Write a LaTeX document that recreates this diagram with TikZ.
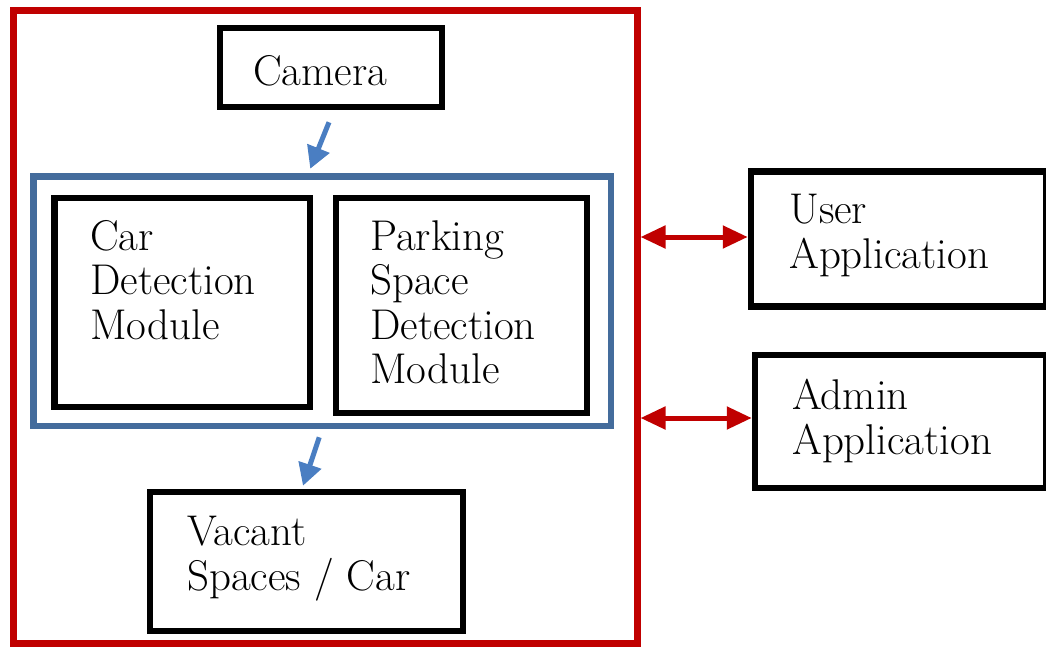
\documentclass[tikz,border=0pt]{standalone}
\usetikzlibrary{arrows.meta,calc}
\definecolor{outred}{RGB}{192,0,0}
\definecolor{grpblue}{RGB}{68,108,156}
\definecolor{arrblue}{RGB}{74,126,194}
\begin{document}
\begin{tikzpicture}[x=1pt,y=-1pt,
  box/.style={draw=black, line width=6.5pt, inner sep=0pt},
  lbl/.style={anchor=base west, inner sep=0pt, align=left, font=\rmfamily\fontsize{43}{44.5}\selectfont},
  bluearr/.style={draw=arrblue, line width=5pt, -{Triangle[length=22pt,width=23pt]}},
  redarr/.style={draw=outred, line width=5pt, {Triangle[length=25pt,width=22pt]}-{Triangle[length=25pt,width=22pt]}}]
\useasboundingbox (0,0) rectangle (1046,648);
% frames
\node[draw=outred, line width=7pt, inner sep=0pt, minimum width=623.5pt, minimum height=632.5pt] (outer) at (325.25,326.75) {};
\node[box, minimum width=222pt, minimum height=79pt] (cam) at (331,67.5) {};
\node[draw=grpblue, line width=6.5pt, inner sep=0pt, minimum width=577.5pt, minimum height=249.5pt] (grp) at (322.25,301.25) {};
\node[box, minimum width=255.5pt, minimum height=209pt] (car) at (182.25,302.5) {};
\node[box, minimum width=251pt, minimum height=215pt] (park) at (461.5,305.5) {};
\node[box, minimum width=313pt, minimum height=139pt] (vac) at (306.5,561.5) {};
\node[box, minimum width=295pt, minimum height=135pt] (user) at (898.5,239) {};
\node[box, minimum width=291pt, minimum height=133pt] (admin) at (900.5,421.5) {};
% texts (anchored at the baseline of the last line)
\node[lbl] (camtxt) at (253,85) {Camera};
\node[lbl] (cartxt) at (90,339) {Car\\Detection\\Module};
\node[lbl] (parktxt) at (370,383.5) {Parking\\Space\\Detection\\Module};
\node[lbl] (vactxt) at (187,590) {Vacant\\Spaces / Car};
\node[lbl] (usertxt) at (789,268) {User\\Application};
\node[lbl] (admintxt) at (792,454) {Admin\\Application};
% connectors
\coordinate (a1s) at ($(cam.south)+(-2,12)$);
\coordinate (a1e) at ($(grp.north)+(-12,-4.5)$);
\coordinate (a2s) at ($(grp.south)+(-3,8)$);
\coordinate (a2e) at ($(vac.north)+(-3.5,-3)$);
\draw[bluearr] (a1s) -- (a1e);
\draw[bluearr] (a2s) -- (a2e);
\coordinate (ua) at (700,237);
\coordinate (aa) at (700,418);
\draw[redarr] (outer.east |- ua) -- (user.west |- ua);
\draw[redarr] (outer.east |- aa) -- (admin.west |- aa);
\end{tikzpicture}
\end{document}
